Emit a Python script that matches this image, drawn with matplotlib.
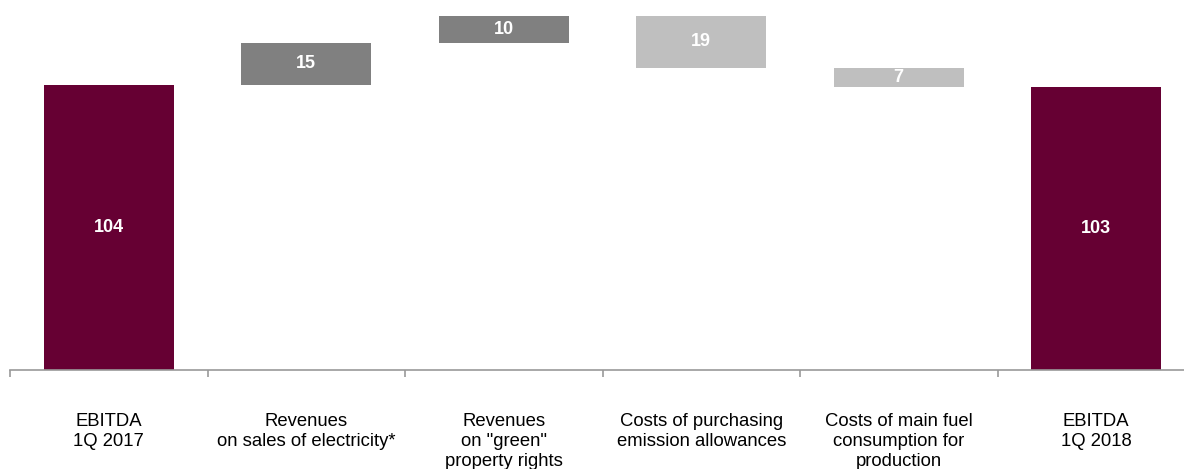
import matplotlib.pyplot as plt

plt.rcParams['font.family'] = ['Liberation Sans', 'DejaVu Sans']

# waterfall data
categories = ['EBITDA\n1Q 2017', 'Revenues\non sales of electricity*',
              'Revenues\non "green"\nproperty rights',
              'Costs of purchasing\nemission allowances',
              'Costs of main fuel\nconsumption for\nproduction',
              'EBITDA\n1Q 2018']
changes = [104, 15, 10, -19, -7, 103]
kinds = ['total', 'up', 'up', 'down', 'down', 'total']

colors = {'total': '#660033', 'up': '#808080', 'down': '#bfbfbf'}

fig = plt.figure(figsize=(11.84, 4.69), dpi=100)
# axes runs past the right edge, like the cropped original
ax = fig.add_axes([10 / 1184, 99 / 469, 1185 / 1184, 370 / 469])

running = 0
for i, (v, k) in enumerate(zip(changes, kinds)):
    if k == 'total':
        bottom, height = 0, v
        running = v
    elif v >= 0:
        bottom, height = running, v
        running += v
    else:
        bottom, height = running + v, -v
        running += v
    ax.bar(i, height, bottom=bottom, width=0.66, color=colors[k])
    ax.text(i, bottom + height / 2, str(abs(v)), ha='center', va='center',
            color='white', fontsize=13, fontweight='bold')

ax.set_xlim(-0.5, 5.5)
ax.set_ylim(0, 134.8)

for s in ['top', 'right', 'left']:
    ax.spines[s].set_visible(False)
ax.spines['bottom'].set_color('#999999')
ax.spines['bottom'].set_linewidth(1.2)
ax.set_yticks([])

ax.set_xticks([i - 0.5 for i in range(len(categories) + 1)])
ax.set_xticklabels([])
ax.tick_params(axis='x', length=5, width=1.2, color='#999999')
ax.set_xticks(range(len(categories)), minor=True)
ax.set_xticklabels(categories, minor=True, fontsize=13.3, linespacing=1.22,
                   va='top')
ax.tick_params(axis='x', which='minor', length=0, pad=31)

fig.savefig('out.png', dpi=100)
